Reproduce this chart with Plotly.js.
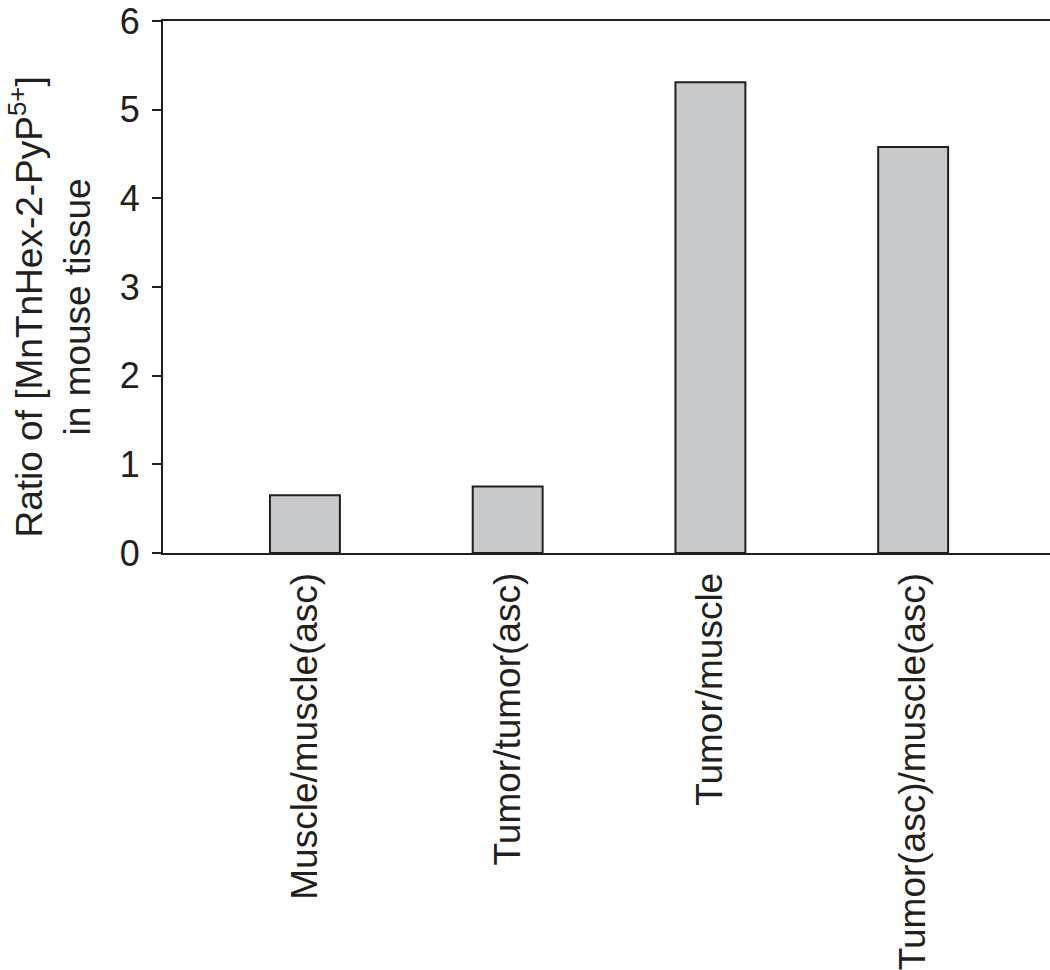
<!DOCTYPE html>
<html>
<head>
<meta charset="utf-8">
<script src="https://cdn.plot.ly/plotly-3.0.1.min.js"></script>
<style>
  html, body { margin: 0; padding: 0; background: #fff; }
  #chart { width: 1050px; height: 970px; }
</style>
</head>
<body>
<div id="chart"></div>
<script>
// 막대 데이터
const categories = ["Muscle/muscle(asc)", "Tumor/tumor(asc)", "Tumor/muscle", "Tumor(asc)/muscle(asc)"];
const ratios = [0.65, 0.75, 5.31, 4.58];
const yTicks = [0, 1, 2, 3, 4, 5, 6];
const yTitle = "Ratio of [MnTnHex-2-PyP<sup>5+</sup>]<br>in mouse tissue";

const ink = "#231f20";
const font = "Liberation Sans, Arial, Helvetica, sans-serif";

Plotly.newPlot("chart", [{
    type: "bar",
    x: categories,
    y: ratios,
    width: 0.345,
    marker: {color: "#c8c9cb", line: {color: ink, width: 2}},
    hoverinfo: "x+y"
}], {
    width: 1050,
    height: 970,
    margin: {l: 163, r: 0, t: 21, b: 417},
    paper_bgcolor: "#fff",
    plot_bgcolor: "#fff",
    font: {family: font, color: ink, size: 36},
    showlegend: false,
    xaxis: {
        range: [-0.7, 3.675],
        showline: true,
        linecolor: ink,
        linewidth: 2,
        mirror: true,
        ticks: "",
        tickangle: -90,
        tickfont: {size: 37},
        ticklabelstandoff: 3,
        showgrid: false,
        zeroline: false
    },
    yaxis: {
        range: [0, 6],
        tickvals: yTicks,
        showline: true,
        linecolor: ink,
        linewidth: 2,
        ticks: "outside",
        ticklen: 9,
        tickwidth: 2,
        tickcolor: ink,
        ticklabelstandoff: 5,
        ticklabeloverflow: "allow",
        tickfont: {size: 36},
        showgrid: false,
        zeroline: false
    },
    // y축 제목 (두 줄, 세로)
    annotations: [{
        text: yTitle,
        textangle: -90,
        xref: "paper", yref: "paper",
        x: -0.127, y: 0.462,
        xanchor: "center", yanchor: "middle",
        showarrow: false,
        font: {size: 37, color: ink}
    }]
}, {displayModeBar: false, responsive: false});
</script>
</body>
</html>
